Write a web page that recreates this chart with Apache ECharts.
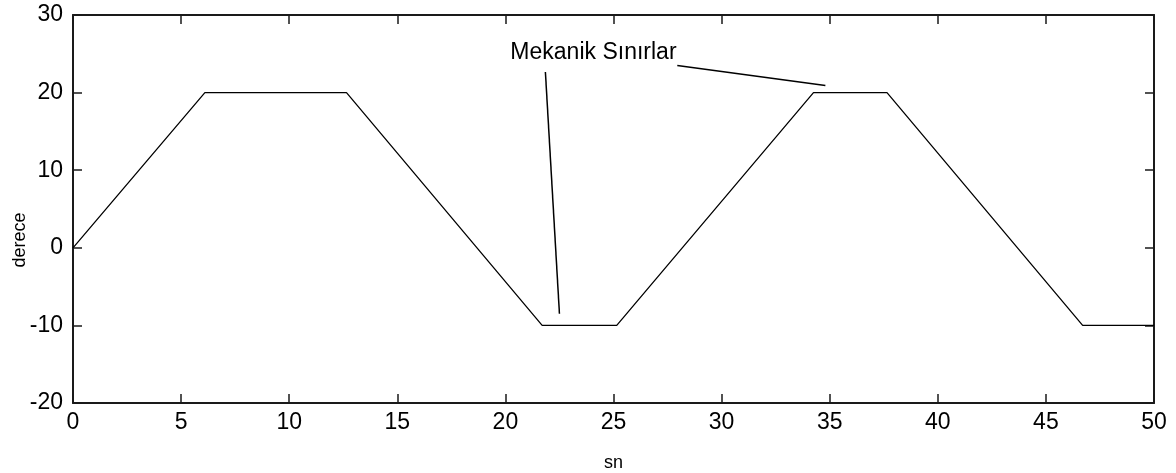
<!DOCTYPE html>
<html>
<head>
<meta charset="utf-8">
<script src="https://cdn.jsdelivr.net/npm/echarts@6/dist/echarts.min.js"></script>
<style>
  html, body { margin: 0; padding: 0; background: #fff; }
  #chart { width: 1176px; height: 473px; }
</style>
</head>
<body>
<div id="chart"></div>
<script>
// Angle profile: time (sn) against angle (derece)
const timeSn = [0, 6.1, 12.65, 21.7, 25.15, 34.25, 37.65, 46.7, 50];
const angleDeg = [0, 20, 20, -10, -10, 20, 20, -10, -10];

// Annotation text and its two pointer lines, in data units
const noteText = 'Mekanik Sınırlar';
const notePos = [20.23, 25.1];
const pointerA = [[21.85, 22.65], [22.5, -8.5]];
const pointerB = [[27.95, 23.5], [34.8, 20.9]];

const xTicks = { min: 0, max: 50, interval: 5 };
const yTicks = { min: -20, max: 30, interval: 10 };

const font = 'Liberation Sans, Arial, sans-serif';
const axisColor = '#1a1a1a';

const chart = echarts.init(document.getElementById('chart'));

const lineData = timeSn.map((t, i) => [t, angleDeg[i]]);

const baseAxis = {
  axisLine: { show: true, onZero: false, lineStyle: { color: axisColor, width: 2 } },
  axisTick: { show: true, inside: true, length: 9, lineStyle: { color: axisColor, width: 1.5 } },
  splitLine: { show: false }
};

chart.setOption({
  animation: false,
  backgroundColor: '#ffffff',
  grid: { left: 73, right: 22, top: 15, bottom: 70, containLabel: false, outerBoundsMode: 'none' },
  xAxis: [
    Object.assign({}, baseAxis, {
      type: 'value', position: 'bottom',
      min: xTicks.min, max: xTicks.max, interval: xTicks.interval,
      name: 'sn', nameLocation: 'middle', nameGap: 51, nameMoveOverlap: false,
      nameTextStyle: { fontFamily: font, fontSize: 18, color: '#000' },
      axisLabel: { fontFamily: font, fontSize: 23, color: '#000', margin: 8 }
    }),
    Object.assign({}, baseAxis, {
      type: 'value', position: 'top',
      min: xTicks.min, max: xTicks.max, interval: xTicks.interval,
      axisLabel: { show: false }
    })
  ],
  yAxis: [
    Object.assign({}, baseAxis, {
      type: 'value', position: 'left',
      min: yTicks.min, max: yTicks.max, interval: yTicks.interval,
      name: 'derece', nameLocation: 'middle', nameGap: 44, nameRotate: 90, nameMoveOverlap: false,
      nameTextStyle: { fontFamily: font, fontSize: 18, color: '#000', padding: [0, 62, 0, 0] },
      axisLabel: { fontFamily: font, fontSize: 23, color: '#000', margin: 10 }
    }),
    Object.assign({}, baseAxis, {
      type: 'value', position: 'right',
      min: yTicks.min, max: yTicks.max, interval: yTicks.interval,
      axisLabel: { show: false }
    })
  ],
  series: [
    {
      type: 'line',
      data: lineData,
      showSymbol: false,
      symbol: 'none',
      lineStyle: { color: '#000', width: 1.3 },
      silent: true,
      markLine: {
        silent: true,
        symbol: ['none', 'none'],
        label: { show: false },
        lineStyle: { color: '#000', width: 1.5, type: 'solid', opacity: 1 },
        data: [
          [{ coord: pointerA[0] }, { coord: pointerA[1] }],
          [{ coord: pointerB[0] }, { coord: pointerB[1] }]
        ]
      }
    },
    {
      type: 'scatter',
      data: [notePos],
      symbolSize: 0,
      silent: true,
      itemStyle: { opacity: 1 },
      label: {
        show: true,
        position: 'right',
        distance: 0,
        formatter: noteText,
        fontFamily: font,
        fontSize: 23,
        color: '#000',
        opacity: 1
      }
    }
  ]
});
</script>
</body>
</html>
